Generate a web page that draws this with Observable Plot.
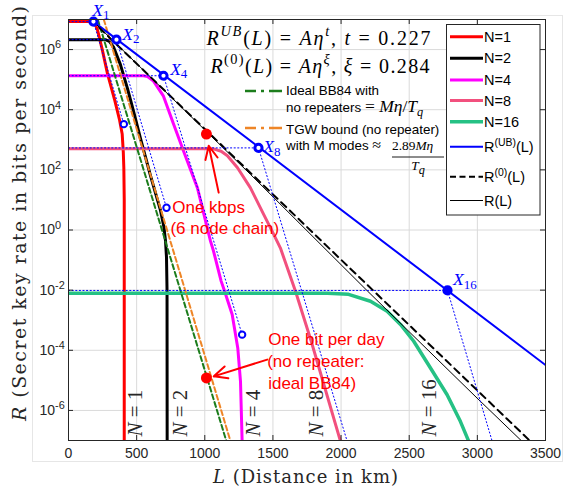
<!DOCTYPE html>
<html><head><meta charset="utf-8">
<script src="https://cdn.jsdelivr.net/npm/d3@7"></script>
<script src="https://cdn.jsdelivr.net/npm/@observablehq/plot@0.6"></script>
<style>body{margin:0;background:#fff;} #chart{width:564px;height:491px;}</style>
</head><body><div id="chart"></div>
<script>
// ---------- data (L in km, values as log10 of R in bits/s) ----------
const xTicks = [0, 500, 1000, 1500, 2000, 2500, 3000, 3500];
const yTickExp = [-6, -4, -2, 0, 2, 4, 6];

const N1_L = [0, 176, 195, 213, 249, 286, 340, 375, 394, 402, 406, 409, 409];
const N1_E = [6.93, 6.93, 6.85, 6.65, 5.97, 5.2, 4.3, 3.65, 3.19, 2.6, 2.07, 1.0, -7];
const N2_L = [0, 270, 300, 332, 381, 433, 477, 528, 602, 675, 700, 712, 719, 723, 724];
const N2_E = [6.33, 6.33, 6.27, 6.07, 5.5, 4.7, 3.95, 3.05, 1.8, 0.65, 0.1, -0.37, -0.9, -2, -7];
const N4_L = [0, 550, 580, 624, 697, 770, 844, 946, 1042, 1064, 1120, 1145, 1201, 1242, 1262, 1274];
const N4_E = [5.13, 5.13, 5.1, 4.95, 4.45, 3.53, 2.63, 1.4, -0.37, -0.7, -1.7, -2.03, -2.81, -3.92, -5.03, -7.03];
const N8_L = [0, 1064, 1120, 1166, 1240, 1335, 1431, 1504, 1555, 1665, 1781, 1996];
const N8_E = [2.7, 2.7, 2.62, 2.47, 2.07, 1.4, 0.53, -0.13, -0.6, -2.03, -3.7, -7.03];
const N16_L = [0, 1900, 2055, 2216, 2338, 2436, 2533, 2656, 2778, 2876, 2937];
const N16_E = [-2.1, -2.1, -2.14, -2.37, -2.7, -3.14, -3.7, -4.59, -5.48, -6.37, -7.03];

const BB84_L = [215, 1159], BB84_E = [7, -7.03];
const TGW_L = [259, 1189], TGW_E = [7, -7.03];
const RUB_L = [183, 3500], RUB_E = [6.93, -4.49];
const R0_L = [162, 3390], R0_E = [7, -7.03];
const RL_L = [183, 553, 1335, 2194, 2998, 3328];
const RL_E = [6.93, 5.3, 1.85, -2.03, -5.59, -7.03];

const XN_names = ["1", "2", "4", "8", "16"];
const XN_L = [183, 352, 697, 1394, 2781];
const XN_E = [6.93, 6.33, 5.13, 2.73, -2.01];
const XN_filled = [false, false, false, false, true];
const dotEnd_L = [406, 719, 1274, 2045, 3109];
const dotEnd_E = [3.52, 0.74, -3.48, -7.03, -7.03];
const cut_L = [406, 719, 1274], cut_E = [3.52, 0.74, -3.48];

const red_L = [1012, 1012], red_E = [3.19, -4.92];

// annotation anchors (data coordinates)
const arrows = [
  {L1: 1102, E1: 1.243, L2: 1029, E2: 2.8},
  {L1: 1458, E1: -4.31, L2: 1066, E2: -4.867}
];
const callouts = [
  {L: 761, E: 0.747, t: "One kbps"},
  {L: 748, E: 0.047, t: "(6 node chain)"},
  {L: 1465, E: -3.637, t: "One bit per day"},
  {L: 1458, E: -4.37, t: "(no repeater:"},
  {L: 1465, E: -5.12, t: "ideal BB84)"}
];
const nLabels = [
  {L: 488, n: "1"}, {L: 822, n: "2"}, {L: 1354, n: "4"}, {L: 1816, n: "8"}, {L: 2645, n: "16"}
];
const nLabel_E = -6.867;
const xLab_L = [174, 394, 746, 1429, 2821];
const xLab_E = [7.31, 6.51, 5.345, 2.78, -1.65];
const formulas = [
  {L: 1012, E: 6.38, segs: [["R","i"],["UB","i^"],["("],["L","i"],[") = "],["A","i"],["η","i"],["t","i^"],[", "],["t","i"],[" = 0.227"]], len: 224},
  {L: 1042, E: 5.447, segs: [["R","i"],["(0)","^"],["("],["L","i"],[") = "],["A","i"],["η","i"],["ξ","i^"],[", "],["ξ","i"],[" = 0.284"]], len: 219}
];

// ---------- helpers ----------
const P = (Ls, Es) => Ls.map((L, i) => ({L, R: 10 ** Es[i]}));
const svgNS = "http://www.w3.org/2000/svg";
const sans = "'Liberation Sans', Arial, Helvetica, sans-serif";
const serif = "'Liberation Serif', 'Times New Roman', serif";
const wideSerif = "'DejaVu Serif', serif";
const INK = "#262626";

function rich(el, segs, fs, opts = {}) {
  while (el.firstChild) el.removeChild(el.firstChild);
  el.setAttributeNS("http://www.w3.org/XML/1998/namespace", "xml:space", "preserve");
  let shift = 0;
  for (const [t, f = "", sz] of segs) {
    const ts = document.createElementNS(svgNS, "tspan");
    const base = sz || fs;
    let target = 0, size = sz || null;
    if (f.includes("^")) { target = -(opts.supRaise ?? 0.4) * base; size = base * (opts.scriptScale ?? 0.7); }
    else if (f.includes("_")) { target = (opts.subDrop ?? 0.25) * base; size = base * (opts.scriptScale ?? 0.7); }
    if (Math.abs(target - shift) > 1e-6) ts.setAttribute("dy", (target - shift).toFixed(2));
    shift = target;
    if (size) ts.setAttribute("font-size", size.toFixed(2));
    if (f.includes("i")) ts.setAttribute("font-style", "italic");
    if (f.includes("m")) ts.setAttribute("font-family", serif);
    if (f.includes("s")) ts.setAttribute("font-family", sans);
    ts.textContent = t;
    el.appendChild(ts);
  }
}

const line = (Ls, Es, o) => Plot.line(P(Ls, Es), {x: "L", y: "R", clip: true, strokeLinejoin: "round", ...o});

// ---------- colours ----------
const C = {n1: "#ff0000", n2: "#000000", n4: "#ff00ff", n8: "#f2507e", n16: "#25c184",
           blue: "#0000ff", bb84: "#1c7d1c", tgw: "#ee8526"};

const dotted = [];
for (let i = 0; i < XN_L.length; i++) {
  dotted.push(line([0, XN_L[i]], [XN_E[i], XN_E[i]], {stroke: C.blue, strokeWidth: 1, strokeDasharray: "1.2,2.4"}));
  dotted.push(line([XN_L[i], dotEnd_L[i]], [XN_E[i], dotEnd_E[i]], {stroke: C.blue, strokeWidth: 1, strokeDasharray: "1.2,2.4"}));
}
const xPts = XN_L.map((L, i) => ({L, R: 10 ** XN_E[i], filled: XN_filled[i]}));

const chart = Plot.plot({
  width: 564, height: 491,
  marginLeft: 68, marginRight: 19, marginTop: 19, marginBottom: 51,
  style: {fontFamily: sans, fontSize: "14px", color: INK, background: "transparent", overflow: "visible"},
  x: {domain: [0, 3500], axis: null},
  y: {type: "log", domain: [1e-7, 1e7], axis: null},
  marks: [
    Plot.gridX(xTicks, {stroke: "#dadada", strokeOpacity: 1}),
    Plot.gridY(yTickExp.map(e => 10 ** e), {stroke: "#dadada", strokeOpacity: 1}),
    line(N1_L, N1_E, {stroke: C.n1, strokeWidth: 3}),
    line(N2_L, N2_E, {stroke: C.n2, strokeWidth: 3}),
    line(N4_L, N4_E, {stroke: C.n4, strokeWidth: 3}),
    line(N8_L, N8_E, {stroke: C.n8, strokeWidth: 3}),
    line(N16_L, N16_E, {stroke: C.n16, strokeWidth: 3.5}),
    line(BB84_L, BB84_E, {stroke: C.bb84, strokeWidth: 2, strokeDasharray: "5,3"}),
    line(TGW_L, TGW_E, {stroke: C.tgw, strokeWidth: 2, strokeDasharray: "5,3"}),
    line(RUB_L, RUB_E, {stroke: C.blue, strokeWidth: 2}),
    line(R0_L, R0_E, {stroke: "#000", strokeWidth: 2, strokeDasharray: "7,5"}),
    line(RL_L, RL_E, {stroke: "#000", strokeWidth: 1}),
    ...dotted,
    Plot.dot(P(cut_L, cut_E), {x: "L", y: "R", r: 3.2, stroke: C.blue, strokeWidth: 2, fill: "white"}),
    Plot.dot(xPts, {x: "L", y: "R", r: 3.6, stroke: C.blue, strokeWidth: 3, fill: d => d.filled ? C.blue : "white"}),
    Plot.dot(P(red_L, red_E), {x: "L", y: "R", r: 5.5, fill: "#ff0000", stroke: "none"}),
    Plot.arrow(arrows, {x1: "L1", y1: d => 10 ** d.E1, x2: "L2", y2: d => 10 ** d.E2, stroke: "#ff0000", strokeWidth: 2, headLength: 11, headAngle: 50}),
    Plot.frame({stroke: INK, strokeWidth: 1}),
    Plot.ruleX(xTicks, {x: d => d, insetTop: 416, stroke: INK}),
    Plot.ruleX(xTicks, {x: d => d, insetBottom: 416, stroke: INK}),
    Plot.ruleY(yTickExp.map(e => 10 ** e), {y: d => d, insetRight: 472, stroke: INK}),
    Plot.ruleY(yTickExp.map(e => 10 ** e), {y: d => d, insetLeft: 472, stroke: INK}),
    Plot.text(xTicks, {x: d => d, frameAnchor: "bottom", dy: 13, text: d => String(d), fontSize: 14, fill: INK, lineAnchor: "middle"}),
    Plot.text(yTickExp, {y: d => 10 ** d, frameAnchor: "left", dx: -29, textAnchor: "start", lineAnchor: "middle", text: (d, i) => "@@ytick:" + i, fontSize: 14, fill: INK}),
    Plot.text(callouts, {x: "L", y: d => 10 ** d.E, text: "t", textAnchor: "start", lineAnchor: "middle", fill: "#ff0000", fontSize: 17, fontFamily: sans}),
    Plot.text(nLabels, {x: "L", y: () => 10 ** nLabel_E, text: (d, i) => "@@nlab:" + i, rotate: -90, textAnchor: "start", lineAnchor: "middle", fontFamily: serif, fontSize: 21, fill: INK}),
    Plot.text(XN_names, {x: (d, i) => xLab_L[i], y: (d, i) => 10 ** xLab_E[i], text: (d, i) => "@@xlab:" + i, textAnchor: "start", lineAnchor: "middle", fontFamily: serif, fontSize: 17.5, fill: C.blue}),
    Plot.text(formulas, {x: "L", y: d => 10 ** d.E, text: (d, i) => "@@formula:" + i, textAnchor: "start", lineAnchor: "middle", fontFamily: serif, fontSize: 20, fill: "#000"})
  ]
});

document.getElementById("chart").appendChild(chart);
const svg = d3.select(chart);

// rich text post-processing (placeholders -> tspans)
svg.selectAll("text").each(function() {
  const s = this.textContent;
  if (!s.startsWith("@@")) return;
  const [kind, idx] = s.slice(2).split(":");
  const i = +idx;
  if (kind === "ytick") rich(this, [["10"], [String(yTickExp[i]), "^", 14]], 14, {supRaise: 0.4, scriptScale: 0.78});
  if (kind === "nlab") rich(this, [["N", "i"], [" = " + nLabels[i].n]], 21);
  if (kind === "xlab") rich(this, [["X", "i"], [XN_names[i], "_"]], 17.5, {subDrop: 0.2, scriptScale: 0.74});
  if (kind === "formula") {
    rich(this, formulas[i].segs, 20, {supRaise: 0.45, scriptScale: 0.72});
    this.setAttribute("textLength", formulas[i].len);
  }
});

// faint figure border
svg.insert("rect", ":first-child").attr("x", 32.5).attr("y", 15.5).attr("width", 530).attr("height", 446)
  .attr("fill", "none").attr("stroke", "#e6e6e6");

// axis labels
const xl = svg.append("text").attr("x", 305.5).attr("y", 483).attr("text-anchor", "middle")
  .attr("font-family", wideSerif).attr("font-size", 18).attr("fill", INK).node();
rich(xl, [["L", "i"], [" (Distance in km)"]], 18);
xl.setAttribute("textLength", 185);
const yl = svg.append("text").attr("transform", "translate(25.5,213.5) rotate(-90)").attr("text-anchor", "middle")
  .attr("font-family", wideSerif).attr("font-size", 19).attr("fill", INK).node();
rich(yl, [["R", "i"], [" (Secret key rate in bits per second)"]], 19);
yl.setAttribute("textLength", 415);

// main legend (boxed)
const lg = svg.append("g").attr("font-family", sans).attr("font-size", 14.5).attr("fill", "#000").attr("text-anchor", "start");
lg.append("rect").attr("x", 446.5).attr("y", 24.5).attr("width", 93.5).attr("height", 190.5)
  .attr("fill", "white").attr("stroke", INK).attr("stroke-width", 1);
const legRows = [
  {y: 36.7, stroke: C.n1, w: 3, dash: null, label: [["N=1"]]},
  {y: 58.3, stroke: C.n2, w: 3, dash: null, label: [["N=2"]]},
  {y: 80, stroke: C.n4, w: 3, dash: null, label: [["N=4"]]},
  {y: 100.5, stroke: C.n8, w: 3, dash: null, label: [["N=8"]]},
  {y: 121.7, stroke: C.n16, w: 3.5, dash: null, label: [["N=16"]]},
  {y: 146.7, stroke: C.blue, w: 2, dash: null, label: [["R"], ["(UB)", "^"], ["(L)"]]},
  {y: 176.7, stroke: "#000", w: 2, dash: "6,3.5", label: [["R"], ["(0)", "^"], ["(L)"]]},
  {y: 200.5, stroke: "#000", w: 1, dash: null, label: [["R(L)"]]}
];
for (const r of legRows) {
  lg.append("line").attr("x1", 450).attr("x2", 483).attr("y1", r.y).attr("y2", r.y)
    .attr("stroke", r.stroke).attr("stroke-width", r.w).attr("stroke-dasharray", r.dash);
  const t = lg.append("text").attr("x", 484).attr("y", r.y + 5).node();
  rich(t, r.label, 14.5, {supRaise: 0.42, scriptScale: 0.72});
}

// second legend (no box)
const l2 = svg.append("g").attr("font-family", sans).attr("font-size", 13.4).attr("fill", "#000").attr("text-anchor", "start");
l2.append("line").attr("x1", 245).attr("x2", 282).attr("y1", 91).attr("y2", 91)
  .attr("stroke", C.bb84).attr("stroke-width", 2.5).attr("stroke-dasharray", "11,5,3,5,13");
l2.append("line").attr("x1", 245).attr("x2", 282).attr("y1", 128).attr("y2", 128)
  .attr("stroke", C.tgw).attr("stroke-width", 2.5).attr("stroke-dasharray", "11,5,3,5,13");
l2.append("text").attr("x", 286).attr("y", 95).text("Ideal BB84 with");
rich(l2.append("text").attr("x", 286).attr("y", 112).node(),
  [["no repeaters "], ["= ", "m", 17.5], ["M", "mi", 17.5], ["η", "mi", 17.5], ["/", "m", 17.5], ["T", "mi", 17.5], ["q", "mi_", 17.5]], 13.4);
l2.append("text").attr("x", 286).attr("y", 133.5).text("TGW bound (no repeater)");
rich(l2.append("text").attr("x", 286).attr("y", 149.5).node(),
  [["with M modes "], ["≈", "m", 16]], 13.4);
rich(l2.append("text").attr("x", 392).attr("y", 150).attr("font-family", serif).node(),
  [["2.89"], ["M", "i"], ["η", "i"]], 17.5);
l2.append("line").attr("x1", 392).attr("x2", 444).attr("y1", 157).attr("y2", 157).attr("stroke", "#000").attr("stroke-width", 0.9);
rich(l2.append("text").attr("x", 418).attr("y", 170).attr("text-anchor", "middle").attr("font-family", serif).node(),
  [["T", "i"], ["q", "i_"]], 17.5);
</script>
</body></html>
